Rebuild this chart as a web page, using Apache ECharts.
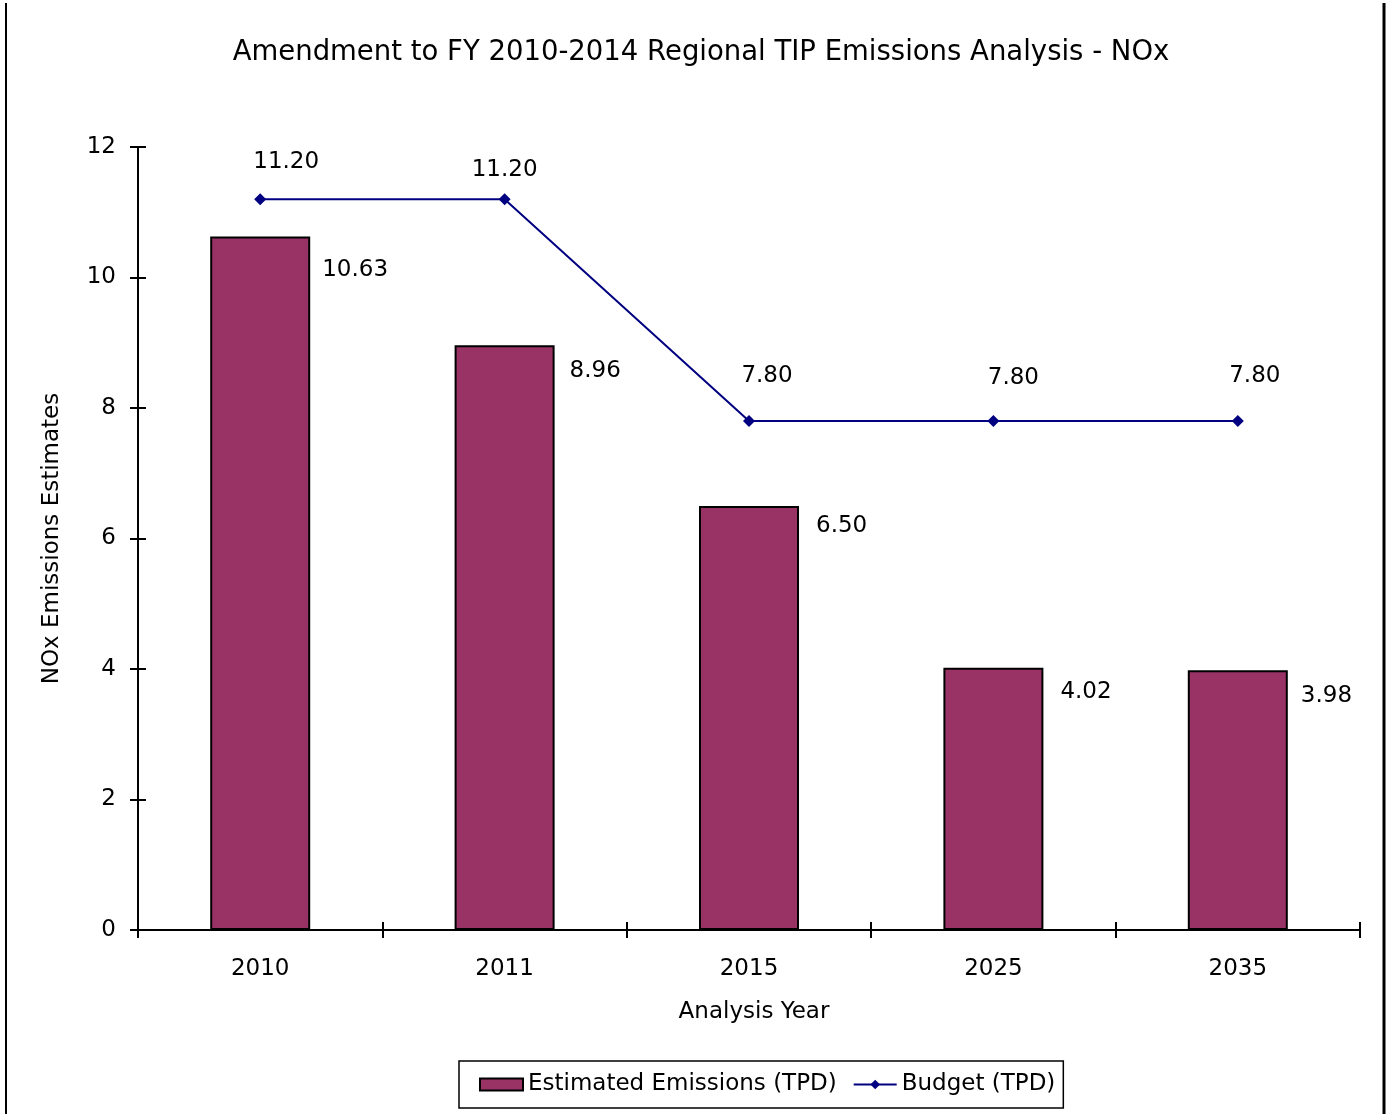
<!DOCTYPE html>
<html>
<head>
<meta charset="utf-8">
<script src="https://cdn.jsdelivr.net/npm/echarts@6/dist/echarts.min.js"></script>
<style>
html,body{margin:0;padding:0;background:#fff;}
#main{width:1387px;height:1114px;}
</style>
</head>
<body>
<div id="main"></div>
<script>
var years = ['2010', '2011', '2015', '2025', '2035'];
var estimated = [10.63, 8.96, 6.50, 4.02, 3.98];
var budget = [11.20, 11.20, 7.80, 7.80, 7.80];
var yTicks = [0, 2, 4, 6, 8, 10, 12];

// label nudges, the excel labels don't sit in one fixed spot
var barLabelPos = [[112, 34], [115, 26], [117, 20], [117, 24], [113, 26]];
var lineLabelOff = [[26, -15], [0, -7], [18, -23], [20, -21], [17, -23]];

var font = 'DejaVu Sans';
var fs = 23;
var chart = echarts.init(document.getElementById('main'));

function fmt(p) { return p.value.toFixed(2); }

var barData = estimated.map(function (v, i) {
  return {value: v, label: {position: barLabelPos[i]}};
});
var lineData = budget.map(function (v, i) {
  return {value: v, label: {offset: lineLabelOff[i]}};
});

chart.setOption({
  animation: false,
  textStyle: {fontFamily: font, color: '#000'},
  title: {
    text: 'Amendment to FY 2010-2014 Regional TIP Emissions Analysis - NOx',
    left: 696, top: 34, textAlign: 'center',
    textStyle: {fontFamily: font, fontSize: 27.5, fontWeight: 'normal', color: '#000'}
  },
  grid: {left: 138, right: 27, top: 147, bottom: 184},
  legend: {
    bottom: 6, left: 459,
    padding: [12, 8, 12, 20],
    borderColor: '#000', borderWidth: 1.5,
    itemGap: 16, itemWidth: 43, itemHeight: 12,
    textStyle: {fontFamily: font, fontSize: fs, color: '#000'},
    data: [
      {name: 'Estimated Emissions (TPD)', icon: 'rect'},
      {name: 'Budget (TPD)'}
    ]
  },
  xAxis: [{
    type: 'category', data: years,
    name: 'Analysis Year', nameLocation: 'middle', nameGap: 71,
    nameTextStyle: {fontFamily: font, fontSize: fs, color: '#000', padding: [0, 0, 0, 10]},
    axisLine: {show: true, lineStyle: {color: '#000', width: 2}},
    axisTick: {show: true, inside: false, length: 8, lineStyle: {color: '#000', width: 2}},
    axisLabel: {fontFamily: font, fontSize: fs, color: '#000', margin: 28}
  }, {
    type: 'category', data: years, position: 'bottom',
    axisLine: {show: false},
    axisTick: {show: true, inside: true, length: 8, lineStyle: {color: '#000', width: 2}},
    axisLabel: {show: false}
  }],
  yAxis: [{
    type: 'value', min: yTicks[0], max: yTicks[yTicks.length - 1], interval: 2,
    name: 'NOx Emissions Estimates', nameLocation: 'middle', nameGap: 74,
    nameTextStyle: {fontFamily: font, fontSize: fs, color: '#000'},
    axisLine: {show: true, lineStyle: {color: '#000', width: 2}},
    axisTick: {show: true, inside: false, length: 8, lineStyle: {color: '#000', width: 2}},
    axisLabel: {fontFamily: font, fontSize: fs, color: '#000', margin: 22},
    splitLine: {show: false}
  }, {
    type: 'value', min: yTicks[0], max: yTicks[yTicks.length - 1], interval: 2, position: 'left',
    axisLine: {show: false},
    axisTick: {show: true, inside: true, length: 8, lineStyle: {color: '#000', width: 2}},
    axisLabel: {show: false},
    splitLine: {show: false}
  }],
  series: [{
    name: 'Estimated Emissions (TPD)',
    type: 'bar', data: barData, barWidth: 100,
    itemStyle: {color: '#993366', borderColor: '#000', borderWidth: 2},
    label: {
      show: true, verticalAlign: 'middle', align: 'left',
      fontFamily: font, fontSize: fs, color: '#000', formatter: fmt
    }
  }, {
    name: 'Budget (TPD)',
    type: 'line', data: lineData,
    symbol: 'diamond', symbolSize: 12,
    lineStyle: {color: '#000080', width: 2},
    itemStyle: {color: '#000080'},
    label: {
      show: true, position: 'top', distance: 5,
      fontFamily: font, fontSize: fs, color: '#000', formatter: fmt
    }
  }],
  graphic: [
    {type: 'line', shape: {x1: 6, y1: 3, x2: 6, y2: 1114}, style: {stroke: '#000', lineWidth: 2}},
    {type: 'line', shape: {x1: 1384, y1: 3, x2: 1384, y2: 1114}, style: {stroke: '#000', lineWidth: 3}}
  ]
});
</script>
</body>
</html>
